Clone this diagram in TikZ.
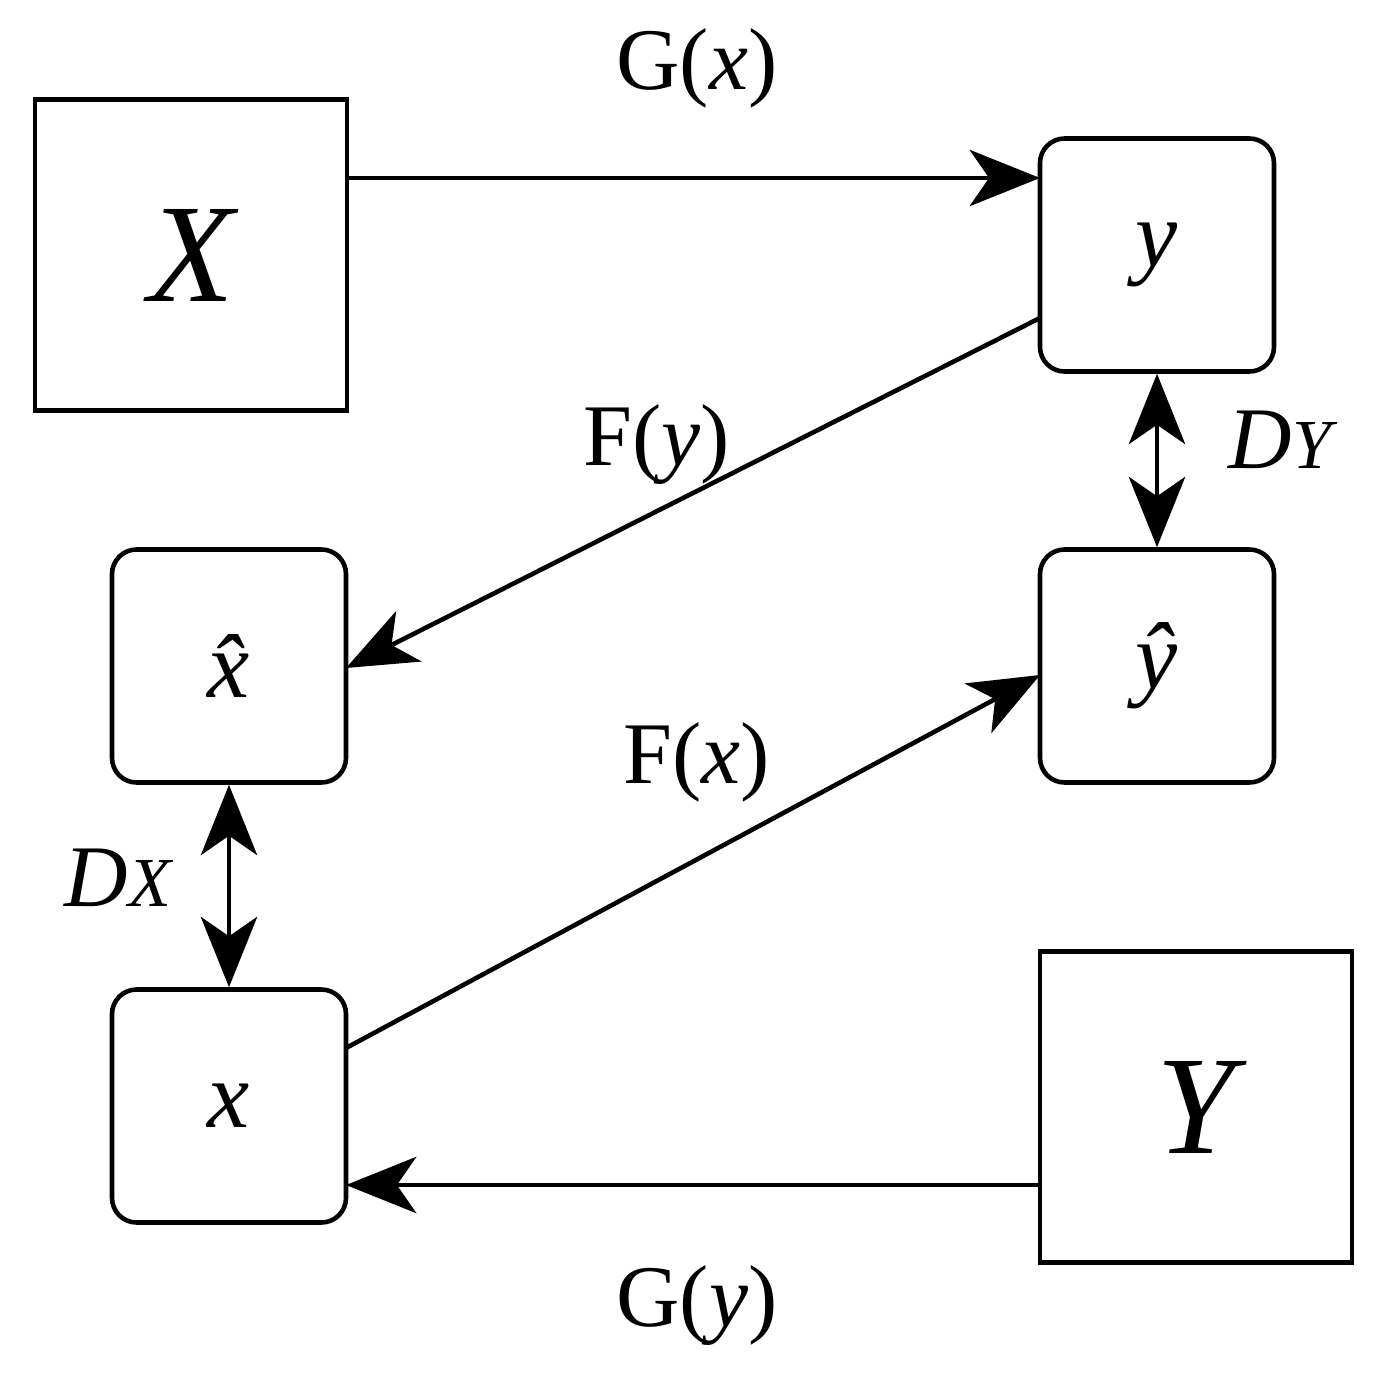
\documentclass[tikz,border=0pt]{standalone}
\usepackage{fontspec}
\setmainfont{Liberation Serif}
\usetikzlibrary{arrows.meta}
\begin{document}
\begin{tikzpicture}[x=0.02cm,y=-0.02cm,
  box/.style={draw,line width=2.6pt,minimum width=312*0.02cm,minimum height=311*0.02cm,inner sep=0},
  rbox/.style={draw,line width=2.6pt,rounded corners=14pt,minimum width=234*0.02cm,minimum height=233*0.02cm,inner sep=0,font=\fontsize{54}{60}\selectfont\itshape},
  lab/.style={font=\fontsize{50}{60}\selectfont,inner sep=0},
  arr/.style={line width=2.6pt,-{Stealth[length=40pt,width=32pt,inset=11pt]}},
  darr/.style={line width=2.6pt,{Stealth[length=40pt,width=32pt,inset=11pt]}-{Stealth[length=40pt,width=32pt,inset=11pt]}}]
\useasboundingbox (0,0) rectangle (1378,1395);
\node[box,font=\fontsize{80}{90}\selectfont\itshape] (X) at (191,255) {X};
\node[box,font=\fontsize{80}{90}\selectfont\itshape] (Y) at (1196,1107) {Y};
\node[rbox] (y) at (1157,255) {y};
\node[rbox] (yh) at (1157,666) {\^y};
\node[rbox] (xh) at (229,666) {\^x};
\node[rbox] (x) at (229,1106) {x};
\coordinate (a1) at (347,178); \coordinate (a2) at (1040,178);
\draw[arr] (a1) -- (a2);
\coordinate (b1) at (1040,318); \coordinate (b2) at (346,668);
\draw[arr] (b1) -- (b2);
\coordinate (c1) at (346,1048); \coordinate (c2) at (1040,675);
\draw[arr] (c1) -- (c2);
\coordinate (d1) at (1040,1185); \coordinate (d2) at (346,1185);
\draw[arr] (d1) -- (d2);
\draw[darr] (y.south) -- (yh.north);
\draw[darr] (xh.south) -- (x.north);
\node[lab] (l1) at (697,68) {G(\textit{x})};
\node[lab] (l2) at (657,445) {F(\textit{y})};
\node[lab] (l3) at (697,762) {F(\textit{x})};
\node[lab] (l4) at (697,1305) {G(\textit{y})};
\node[lab,font=\fontsize{50}{60}\selectfont\itshape] (l5) at (1280,440) {D{\fontsize{40}{40}\selectfont Y}};
\node[lab,font=\fontsize{50}{60}\selectfont\itshape] (l6) at (118,878) {D{\fontsize{40}{40}\selectfont X}};
\end{tikzpicture}
\end{document}
